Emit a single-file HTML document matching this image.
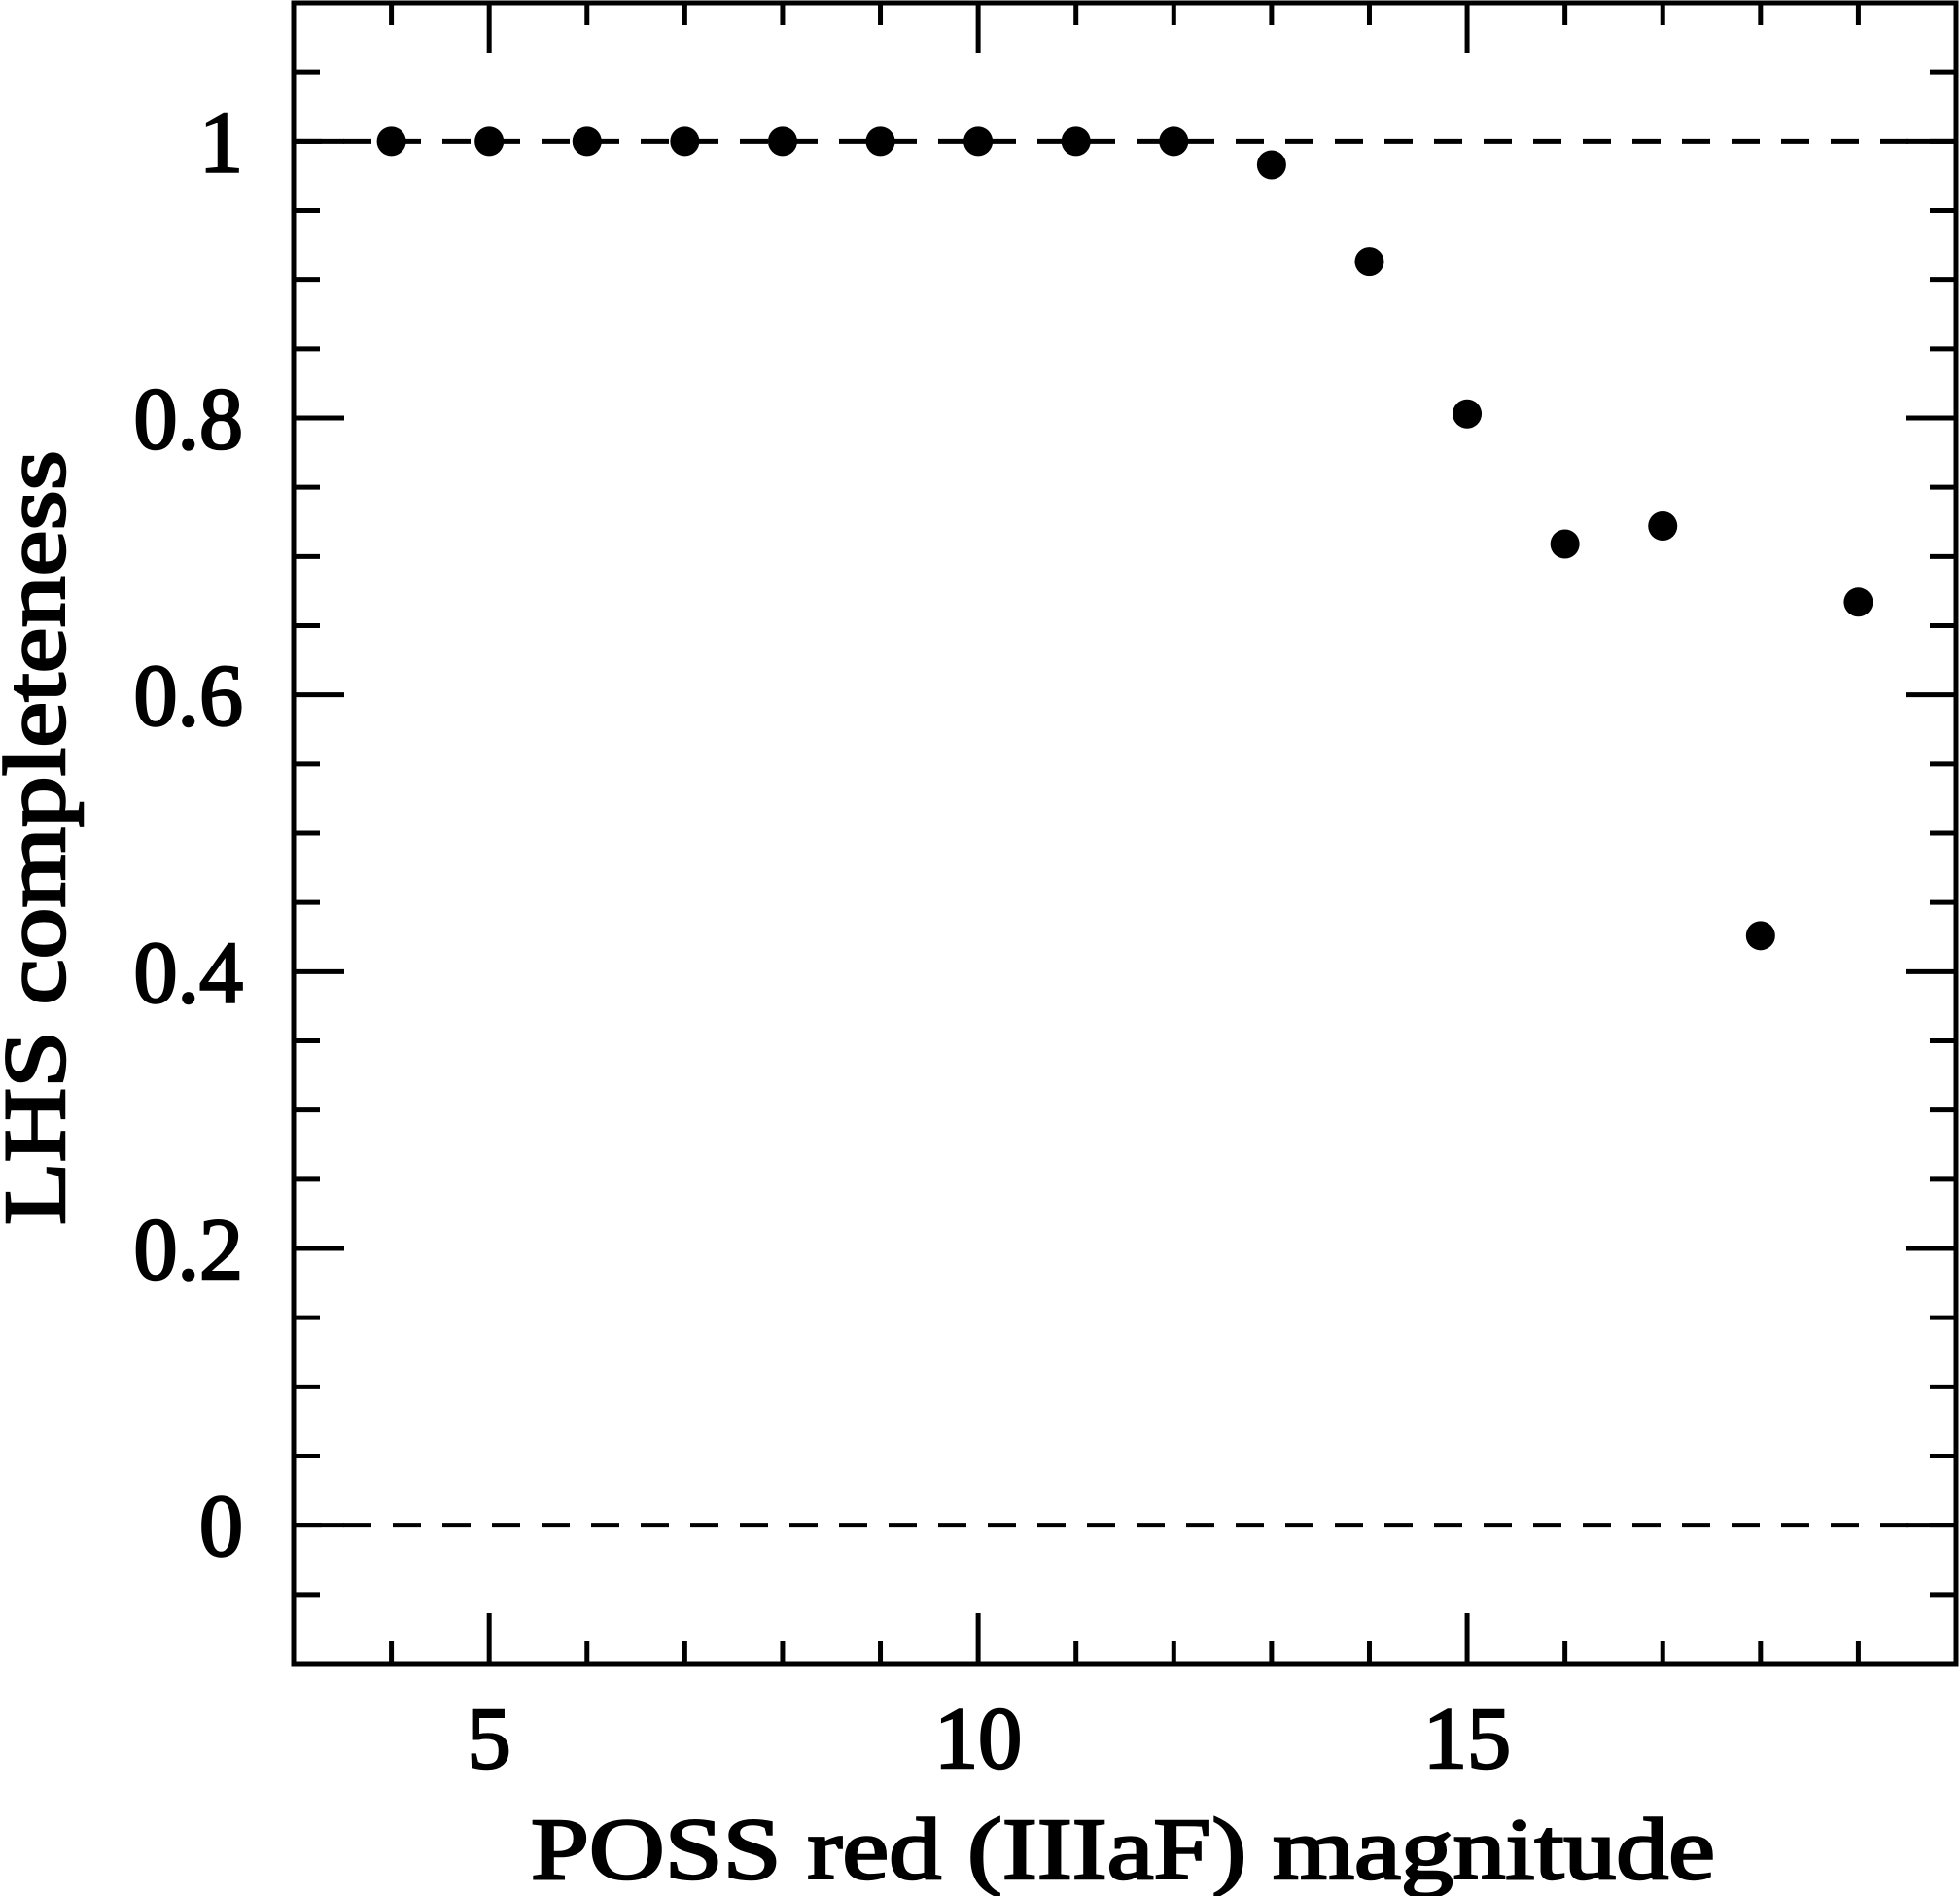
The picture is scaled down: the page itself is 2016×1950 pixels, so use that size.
<!DOCTYPE html>
<html><head><meta charset="utf-8"><style>html,body{margin:0;padding:0;background:#fff}svg{display:block}</style></head>
<body>
<svg id="chart" width="2016" height="1950" viewBox="0 0 2016 1950" xmlns="http://www.w3.org/2000/svg">
<g id="plot"></g>
</svg>
<script>
const magnitudes = [4,5,6,7,8,9,10,11,12,13,14,15,16,17,18,19];
const completeness = [1,1,1,1,1,1,1,1,1,0.983,0.913,0.803,0.709,0.722,0.426,0.667];
const xTickLabels = [5,10,15];
const yTickLabels = ["0","0.2","0.4","0.6","0.8","1"];
const yTickValues = [0,0.2,0.4,0.6,0.8,1];
const refLines = [0,1];

const L=302,R=2012,T=3,B=1711;
const xMin=3,xMax=20,yMin=-0.1,yMax=1.1;
const sx=v=>L+(v-xMin)/(xMax-xMin)*(R-L);
const sy=v=>B-(v-yMin)/(yMax-yMin)*(B-T);
const NS="http://www.w3.org/2000/svg";
const g=document.getElementById('plot');
function mk(tag,attrs){const e=document.createElementNS(NS,tag);for(const k in attrs)e.setAttribute(k,attrs[k]);g.appendChild(e);return e;}
const font='"Liberation Serif", serif';
const txt={'font-family':font,'font-size':90,stroke:'#000','stroke-width':2.5};
function T_(attrs){return Object.assign({},txt,attrs);}

refLines.forEach(v=>{
  const l=mk('line',{x1:L,x2:R,y1:sy(v),y2:sy(v),stroke:'#000','stroke-width':5,'stroke-dasharray':'29 22'});
  
  
});
const fr=mk('rect',{x:L,y:T,width:R-L,height:B-T,fill:'none',stroke:'#000','stroke-width':5});


for(let v=4;v<=19;v++){
  const len=(v%5===0)?52:23;
  const x=sx(v);
  const t1=mk('line',{x1:x,x2:x,y1:B,y2:B-len,stroke:'#000','stroke-width':5});
  
  
  const t2=mk('line',{x1:x,x2:x,y1:T,y2:T+len,stroke:'#000','stroke-width':5});
  
  
}
xTickLabels.forEach(v=>{
  const t=mk('text',T_({x:sx(v),y:1818,'text-anchor':'middle'}));
  t.textContent=v;
  
  
});
for(let i=-1;i<=21;i++){
  const v=i*0.05;
  const major=(i%4===0);
  const len=major?52:27;
  const y=sy(v);
  const t1=mk('line',{x1:L,x2:L+len,y1:y,y2:y,stroke:'#000','stroke-width':5});
  
  
  const t2=mk('line',{x1:R,x2:R-len,y1:y,y2:y,stroke:'#000','stroke-width':5});
  
  
}
yTickValues.forEach((v,i)=>{
  const t=mk('text',T_({x:250,y:sy(v)+31,'text-anchor':'end'}));
  t.textContent=yTickLabels[i];
  
  
});
magnitudes.forEach((m,i)=>{
  const c=mk('circle',{cx:sx(m),cy:sy(completeness[i]),r:15,fill:'#000'});
  
  
});
const xt=mk('text',T_({x:546,y:1932,textLength:1218,lengthAdjust:'spacingAndGlyphs'}));
xt.textContent='POSS red (IIIaF) magnitude';


const yt=mk('text',T_({x:0,y:0,textLength:797,lengthAdjust:'spacingAndGlyphs',transform:'translate(66,1260) rotate(-90)'}));
yt.textContent='LHS completeness';


</script>
</body></html>
